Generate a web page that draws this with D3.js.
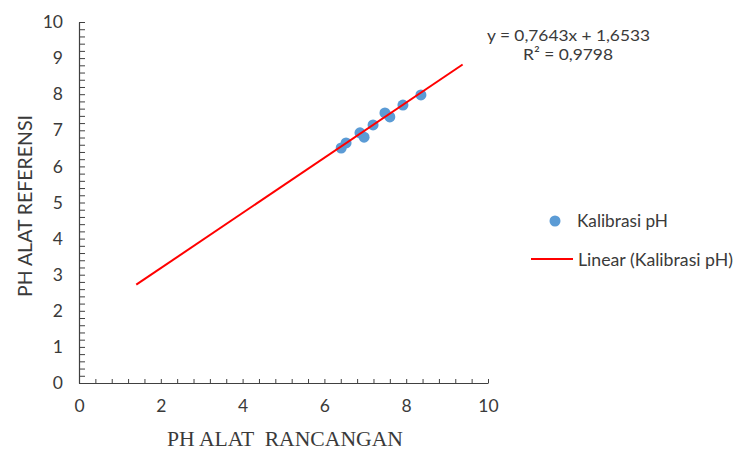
<!DOCTYPE html>
<html>
<head>
<meta charset="utf-8">
<script src="https://cdn.jsdelivr.net/npm/d3@7"></script>
<style>
body { margin: 0; background: #fff; }
text { font-family: Lato, "Open Sans", sans-serif; fill: #3a3a3a; }
</style>
</head>
<body>
<div id="chart"></div>
<script>
// data
var phRancangan = [6.41, 6.53, 6.87, 6.97, 7.19, 7.48, 7.60, 7.92, 8.36];
var phReferensi = [6.51, 6.65, 6.93, 6.81, 7.15, 7.48, 7.37, 7.70, 7.98];
var slope = 0.7643, intercept = 1.6533;
var trendRange = [1.4, 9.38];
var xTicks = [0, 2, 4, 6, 8, 10];
var yTicks = [0, 1, 2, 3, 4, 5, 6, 7, 8, 9, 10];

var width = 735, height = 450;

var svg = d3.select("#chart").append("svg")
	.attr("width", width)
	.attr("height", height);

var x = d3.scaleLinear().domain([0, 10]).range([79, 488]);
var y = d3.scaleLinear().domain([0, 10]).range([383, 22]);

// minor ticks (inside)
svg.append("g")
	.attr("transform", "translate(0,383)")
	.call(d3.axisTop(x).tickValues(d3.range(0, 10.01, 0.4)).tickSize(4).tickFormat(""))
	.call(function(g){ g.select(".domain").remove(); g.selectAll("line").attr("stroke", "#404040"); });

svg.append("g")
	.attr("transform", "translate(79,0)")
	.call(d3.axisRight(y).tickValues(d3.range(0, 10.01, 0.2)).tickSize(6).tickFormat(""))
	.call(function(g){ g.select(".domain").remove(); g.selectAll("line").attr("stroke", "#404040"); });

// axis lines + labels
var xAxis = svg.append("g")
	.attr("transform", "translate(0,383)")
	.call(d3.axisBottom(x).tickValues(xTicks).tickSize(0).tickPadding(17));
xAxis.select(".domain").attr("stroke", "#404040").attr("stroke-width", 1.2);
xAxis.selectAll("text").style("font-size", "17.5px").attr("fill", "#3a3a3a")
	.style("font-family", "Lato, sans-serif");

var yAxis = svg.append("g")
	.attr("transform", "translate(79,0)")
	.call(d3.axisLeft(y).tickValues(yTicks).tickSize(0).tickPadding(16));
yAxis.select(".domain").attr("stroke", "#404040").attr("stroke-width", 1.2);
yAxis.selectAll("text").style("font-size", "17.5px").attr("fill", "#3a3a3a")
	.style("font-family", "Lato, sans-serif");

// points
svg.selectAll("circle.pt")
	.data(phRancangan)
	.enter().append("circle")
		.attr("class", "pt")
		.attr("cx", function(d){ return x(d); })
		.attr("cy", function(d, i){ return y(phReferensi[i]); })
		.attr("r", 5.5)
		.attr("fill", "#5B9BD5");

// trendline
svg.append("line")
	.attr("x1", x(trendRange[0]))
	.attr("y1", y(slope * trendRange[0] + intercept))
	.attr("x2", x(trendRange[1]))
	.attr("y2", y(slope * trendRange[1] + intercept))
	.attr("stroke", "#FF0000")
	.attr("stroke-width", 2);

// equation
svg.append("text")
	.attr("x", 487).attr("y", 41)
	.attr("textLength", 163).attr("lengthAdjust", "spacingAndGlyphs")
	.style("font-size", "16px")
	.text("y = 0,7643x + 1,6533");
svg.append("text")
	.attr("x", 523).attr("y", 60)
	.attr("textLength", 90).attr("lengthAdjust", "spacingAndGlyphs")
	.style("font-size", "16px")
	.text("R² = 0,9798");

// axis titles
svg.append("text")
	.attr("x", 167).attr("y", 446)
	.attr("textLength", 236).attr("lengthAdjust", "spacingAndGlyphs")
	.style("font-family", "'Liberation Serif', 'Times New Roman', serif")
	.style("font-size", "21px")
	.attr("xml:space", "preserve")
	.text("PH ALAT  RANCANGAN");

svg.append("text")
	.attr("transform", "translate(32,297) rotate(-90)")
	.attr("textLength", 182).attr("lengthAdjust", "spacingAndGlyphs")
	.style("font-size", "20px")
	.text("PH ALAT REFERENSI");

// legend
svg.append("circle")
	.attr("cx", 555).attr("cy", 221).attr("r", 5.5)
	.attr("fill", "#5B9BD5");
svg.append("text")
	.attr("x", 577).attr("y", 227)
	.attr("textLength", 91).attr("lengthAdjust", "spacingAndGlyphs")
	.style("font-size", "17px")
	.text("Kalibrasi pH");

svg.append("line")
	.attr("x1", 531).attr("x2", 573)
	.attr("y1", 259).attr("y2", 259)
	.attr("stroke", "#FF0000").attr("stroke-width", 2);
svg.append("text")
	.attr("x", 578).attr("y", 266)
	.attr("textLength", 155).attr("lengthAdjust", "spacingAndGlyphs")
	.style("font-size", "17px")
	.text("Linear (Kalibrasi pH)");
</script>
</body>
</html>
